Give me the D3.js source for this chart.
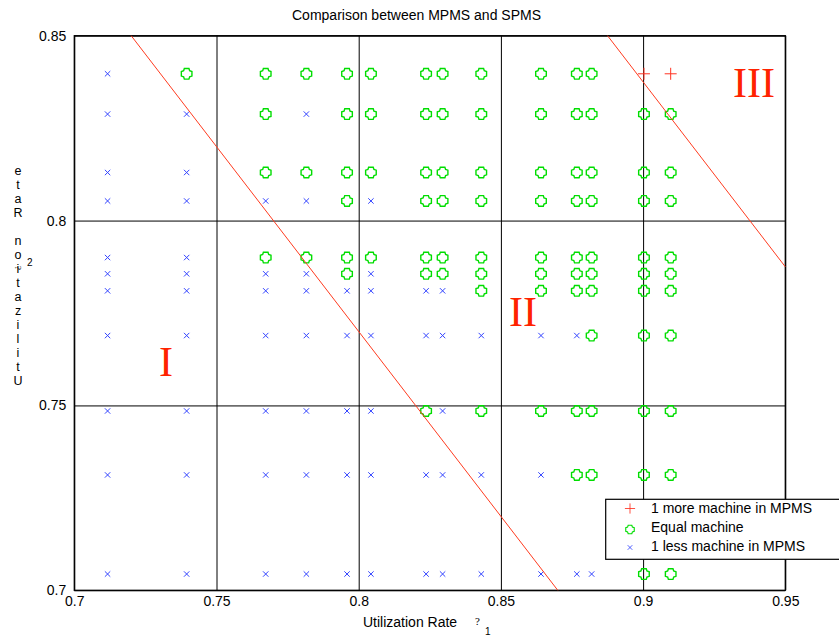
<html>
<head>
<script src="https://cdn.jsdelivr.net/npm/d3@7/dist/d3.min.js"></script>
<style>
  body { margin: 0; background: #fff; }
</style>
</head>
<body>
<svg width="839" height="637" font-family='"Liberation Sans", Arial, Helvetica, sans-serif'></svg>
<script>
// utilization rate rho1 (columns) and rho2 (rows)
var rho1 = [0.7117, 0.7395, 0.7673, 0.7816, 0.7959, 0.8043, 0.8237,
            0.8295, 0.8431, 0.8641, 0.8767, 0.8819, 0.9003, 0.9097]
var rho2 = [0.8397, 0.8288, 0.8130, 0.8053, 0.7900, 0.7856,
            0.7810, 0.7689, 0.7485, 0.7312, 0.7044]
// outcome per row: '+' 1 more machine, 'o' equal, 'x' 1 less
var outcome = [
  'xooooooooooo++',
  'xxoxoooooooooo',
  'xxoooooooooooo',
  'xxxxoxoooooooo',
  'xxoooooooooooo',
  'xxxxoxoooooooo',
  'xxxxxxxxoooooo',
  'xxxxxxxxxxxooo',
  'xxxxxxoxoooooo',
  'xxxxxxxxxxoooo',
  'xxxxxxxxxxxxoo'
]
var boundaries = [
  [[0.72, 0.85], [0.87, 0.70]],
  [[0.8875, 0.85], [0.95, 0.7875]]
]
var regionNames = ['I', 'II', 'III']
var regionX = [0.7322, 0.8578, 0.9390]
var regionY = [0.7580, 0.7715, 0.8333]
var xTicks = [0.7, 0.75, 0.8, 0.85, 0.9, 0.95]
var yTicks = [0.7, 0.75, 0.8, 0.85]
var legendLabels = ['1 more machine in MPMS', 'Equal machine', '1 less machine in MPMS']
var legendKeys = ['+', 'o', 'x']

var svg = d3.select('svg')
var x = d3.scaleLinear().domain([0.7, 0.95]).range([74.3, 785.3])
var y = d3.scaleLinear().domain([0.7, 0.85]).range([590.3, 35.7])
var plotH = 590.3 - 35.7, plotW = 785.3 - 74.3
var serif = '"Liberation Serif", "Times New Roman", serif'

// marker shapes
var shapes = {
  'x': 'M-2.7,-2.7L2.7,2.7M-2.7,2.7L2.7,-2.7',
  'o': 'M-2.3,-5.3L2.3,-5.3L3,-3L5.3,-2.3L5.3,2.3L3,3L2.3,5.3L-2.3,5.3L-3,3L-5.3,2.3L-5.3,-2.3L-3,-3Z',
  '+': 'M-6,0H6M0,-6V6'
}
var colors = { 'x': '#3344ff', 'o': '#00dd00', '+': '#ff3322' }
var widths = { 'x': 1, 'o': 1.4, '+': 1 }

// grid + axes
var gx = svg.append('g').attr('transform', 'translate(0,590.3)')
  .call(d3.axisBottom(x).tickValues(xTicks).tickSize(-plotH).tickPadding(6)
        .tickFormat(d3.format('')))
var gy = svg.append('g').attr('transform', 'translate(74.3,0)')
  .call(d3.axisLeft(y).tickValues(yTicks).tickSize(-plotW).tickPadding(8)
        .tickFormat(d3.format('')))
svg.selectAll('.domain').remove()
svg.selectAll('.tick line').attr('stroke', '#000').attr('stroke-width', 1)
svg.selectAll('.tick text').attr('font-size', 14).attr('fill', '#000')
  .attr('font-family', '"Liberation Sans", Arial, sans-serif')

svg.append('rect')
  .attr('x', 74.3).attr('y', 35.7).attr('width', plotW).attr('height', plotH)
  .attr('fill', 'none').attr('stroke', '#000').attr('stroke-width', 1.3)

// points
var points = []
outcome.forEach(function(row, i){
  row.split('').forEach(function(k, j){
    points.push({ x: rho1[j], y: rho2[i], k: k })
  })
})

svg.append('g').selectAll('path')
  .data(points)
  .enter()
  .append('path')
  .attr('transform', function(d){ return 'translate(' + x(d.x) + ',' + y(d.y) + ')' })
  .attr('d', function(d){ return shapes[d.k] })
  .attr('fill', 'none')
  .attr('stroke', function(d){ return colors[d.k] })
  .attr('stroke-width', function(d){ return widths[d.k] })

// boundary lines
var line = d3.line().x(function(d){ return x(d[0]) }).y(function(d){ return y(d[1]) })
svg.append('g').selectAll('path')
  .data(boundaries)
  .enter()
  .append('path')
  .attr('d', line)
  .attr('fill', 'none')
  .attr('stroke', '#ff3b1f')
  .attr('stroke-width', 1)

// region labels
svg.append('g').selectAll('text')
  .data(regionNames)
  .enter()
  .append('text')
  .attr('x', function(d, i){ return x(regionX[i]) })
  .attr('y', function(d, i){ return y(regionY[i]) })
  .attr('text-anchor', 'middle')
  .attr('font-family', serif)
  .attr('font-size', 42)
  .attr('fill', '#ff2200')
  .text(function(d){ return d })

// title
svg.append('text')
  .attr('x', 416.5).attr('y', 19.5)
  .attr('text-anchor', 'middle')
  .attr('font-size', 14)
  .text('Comparison between MPMS and SPMS')

// x label
svg.append('text').attr('x', 363).attr('y', 627).attr('font-size', 14)
  .text('Utilization Rate')
svg.append('text').attr('x', 475).attr('y', 625).attr('font-size', 11)
  .attr('font-family', serif).text('?')
svg.append('text').attr('x', 485).attr('y', 635).attr('font-size', 10).text('1')

// y label, letters stacked upright (read bottom to top)
var yChars = 'Utilization Rate'.split('').reverse()
svg.append('g').selectAll('text')
  .data(yChars)
  .enter()
  .append('text')
  .attr('x', 18)
  .attr('y', function(d, i){ return 175 + i * 14 })
  .attr('text-anchor', 'middle')
  .attr('font-size', 12.5)
  .text(function(d){ return d })
svg.append('text').attr('x', 27).attr('y', 266).attr('font-size', 10).text('2')
svg.append('text').attr('transform', 'translate(15,268) rotate(90)')
  .attr('font-size', 9).attr('font-family', serif)
  .attr('text-anchor', 'middle').text('?')

// legend
var lg = svg.append('g')
lg.append('rect')
  .attr('x', 605.7).attr('y', 499.3).attr('width', 240).attr('height', 60)
  .attr('fill', '#fff').attr('stroke', '#000').attr('stroke-width', 1.2)
var legendScale = { '+': 0.85, 'o': 0.8, 'x': 0.85 }
var items = lg.selectAll('g.item')
  .data(legendLabels)
  .enter()
  .append('g')
  .attr('class', 'item')
  .attr('transform', function(d, i){ return 'translate(0,' + (508.5 + i * 19) + ')' })
items.append('path')
  .attr('transform', function(d, i){
    var k = legendKeys[i]
    return 'translate(630,' + (k === 'o' ? 2 : (k === 'x' ? 1 : 0)) + ') scale(' + legendScale[k] + ')'
  })
  .attr('d', function(d, i){ return shapes[legendKeys[i]] })
  .attr('fill', 'none')
  .attr('stroke', function(d, i){ return colors[legendKeys[i]] })
  .attr('stroke-width', function(d, i){ return widths[legendKeys[i]] })
items.append('text')
  .attr('x', 651).attr('y', 4.5)
  .attr('font-size', 14)
  .text(function(d){ return d })
</script>
</body>
</html>
